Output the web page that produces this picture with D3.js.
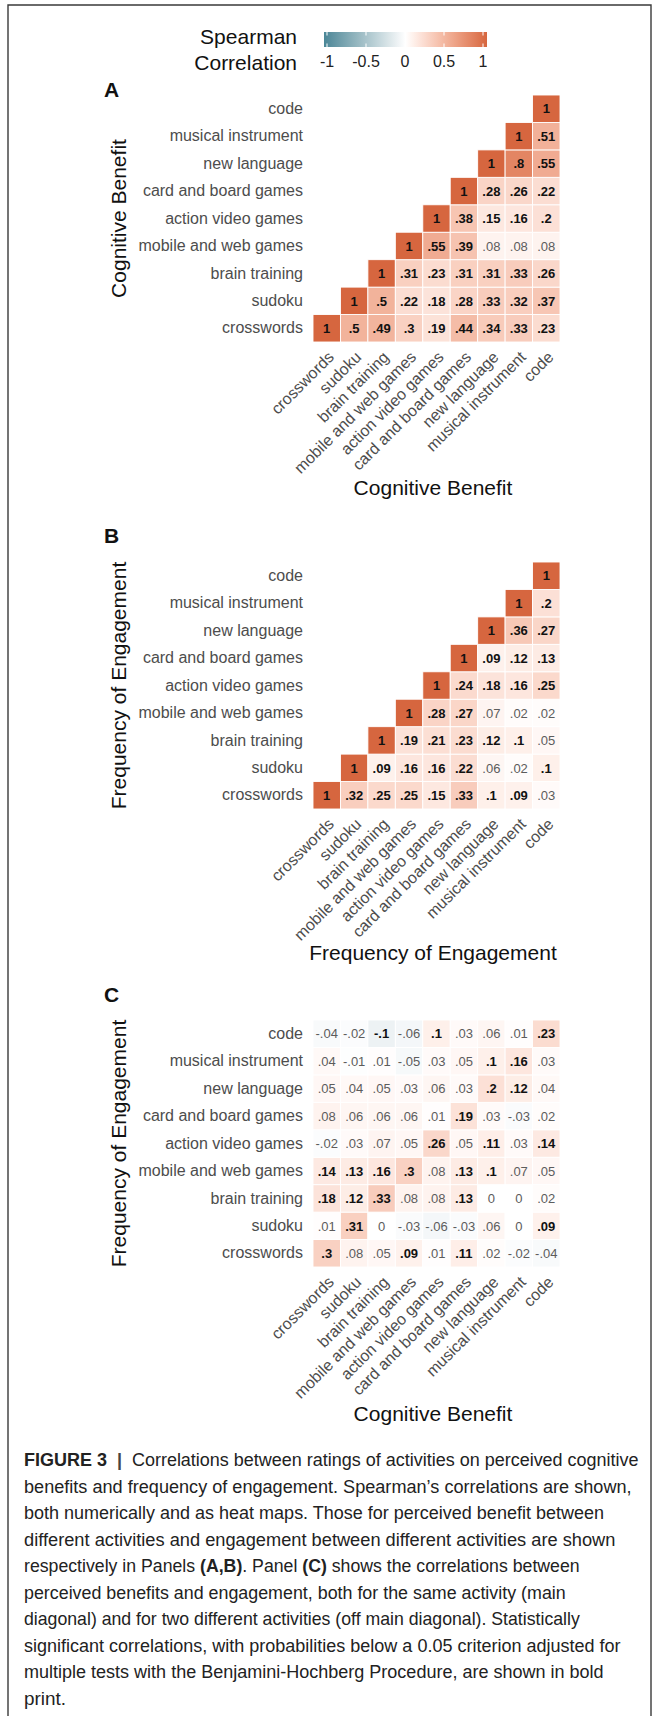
<!DOCTYPE html>
<html>
<head>
<meta charset="utf-8">
<script src="https://cdn.jsdelivr.net/npm/d3@7"></script>
<style>
  body { margin: 0; background: #fff; }
  svg text { font-family: "Liberation Sans", Arial, Helvetica, sans-serif; }
</style>
</head>
<body>
<svg id="fig" width="653" height="1716"></svg>
<script>
// Activities, in axis order (x: left → right, y: bottom → top)
const activities = ["crosswords", "sudoku", "brain training", "mobile and web games",
  "action video games", "card and board games", "new language", "musical instrument", "code"];

// Panel A – cognitive benefit × cognitive benefit (row i holds columns i..8)
const benefitCorr = [
  [1, .5, .49, .3, .19, .44, .34, .33, .23],
  [1, .5, .22, .18, .28, .33, .32, .37],
  [1, .31, .23, .31, .31, .33, .26],
  [1, .55, .39, .08, .08, .08],
  [1, .38, .15, .16, .2],
  [1, .28, .26, .22],
  [1, .8, .55],
  [1, .51],
  [1]
];
const benefitSig = [
  [1, 1, 1, 1, 1, 1, 1, 1, 1],
  [1, 1, 1, 1, 1, 1, 1, 1],
  [1, 1, 1, 1, 1, 1, 1],
  [1, 1, 1, 0, 0, 0],
  [1, 1, 1, 1, 1],
  [1, 1, 1, 1],
  [1, 1, 1],
  [1, 1],
  [1]
];

// Panel B – frequency of engagement × frequency of engagement
const engageCorr = [
  [1, .32, .25, .25, .15, .33, .1, .09, .03],
  [1, .09, .16, .16, .22, .06, .02, .1],
  [1, .19, .21, .23, .12, .1, .05],
  [1, .28, .27, .07, .02, .02],
  [1, .24, .18, .16, .25],
  [1, .09, .12, .13],
  [1, .36, .27],
  [1, .2],
  [1]
];
const engageSig = [
  [1, 1, 1, 1, 1, 1, 1, 1, 0],
  [1, 1, 1, 1, 1, 0, 0, 1],
  [1, 1, 1, 1, 1, 1, 0],
  [1, 1, 1, 0, 0, 0],
  [1, 1, 1, 1, 1],
  [1, 1, 1, 1],
  [1, 1, 1],
  [1, 1],
  [1]
];

// Panel C – engagement (rows, crosswords → code) × benefit (columns)
const crossCorr = [
  [.3, .08, .05, .09, .01, .11, .02, -.02, -.04],
  [.01, .31, 0, -.03, -.06, -.03, .06, 0, .09],
  [.18, .12, .33, .08, .08, .13, 0, 0, .02],
  [.14, .13, .16, .3, .08, .13, .1, .07, .05],
  [-.02, .03, .07, .05, .26, .05, .11, .03, .14],
  [.08, .06, .06, .06, .01, .19, .03, -.03, .02],
  [.05, .04, .05, .03, .06, .03, .2, .12, .04],
  [.04, -.01, .01, -.05, .03, .05, .1, .16, .03],
  [-.04, -.02, -.1, -.06, .1, .03, .06, .01, .23]
];
const crossSig = [
  [1, 0, 0, 1, 0, 1, 0, 0, 0],
  [0, 1, 0, 0, 0, 0, 0, 0, 1],
  [1, 1, 1, 0, 0, 1, 0, 0, 0],
  [1, 1, 1, 1, 0, 1, 1, 0, 0],
  [0, 0, 0, 0, 1, 0, 1, 0, 1],
  [0, 0, 0, 0, 0, 1, 0, 0, 0],
  [0, 0, 0, 0, 0, 0, 1, 1, 0],
  [0, 0, 0, 0, 0, 0, 1, 1, 0],
  [0, 0, 1, 0, 1, 0, 0, 0, 1]
];

const legendTicks = [-1, -0.5, 0, 0.5, 1];
const legendTickLabels = ["-1", "-0.5", "0", "0.5", "1"];

const captionLines = [
  [["FIGURE 3", "b"], ["  |  ", "m"], ["Correlations between ratings of activities on perceived cognitive", ""]],
  [["benefits and frequency of engagement. Spearman\u2019s correlations are shown,", ""]],
  [["both numerically and as heat maps. Those for perceived benefit between", ""]],
  [["different activities and engagement between different activities are shown", ""]],
  [["respectively in Panels ", ""], ["(A,B)", "b"], [". Panel ", ""], ["(C)", "b"], [" shows the correlations between", ""]],
  [["perceived benefits and engagement, both for the same activity (main", ""]],
  [["diagonal) and for two different activities (off main diagonal). Statistically", ""]],
  [["significant correlations, with probabilities below a 0.05 criterion adjusted for", ""]],
  [["multiple tests with the Benjamini-Hochberg Procedure, are shown in bold", ""]],
  [["print.", ""]]
];
const captionWidths = [615, 608, 580, 592, 556, 542, 556, 597, 580, 42];

// ---------------------------------------------------------------
const svg = d3.select("#fig");

// frame
svg.append("path")
  .attr("d", "M8,1716V5H651V1716")
  .attr("fill", "none").attr("stroke", "#3a3a3a").attr("stroke-width", 1.4);

const color = d3.scaleLinear()
  .domain([-1, 0, 1])
  .range(["#4b8797", "#ffffff", "#d6663f"])
  .interpolate(d3.interpolateLab);

function fmt(v) {
  if (v === 1) return "1";
  if (v === 0) return "0";
  const s = d3.format(".2f")(Math.abs(v)).replace(/^0/, "").replace(/0+$/, "");
  return (v < 0 ? "-" : "") + s;
}

const x = d3.scaleBand().domain(activities).range([313, 560]);

function toCells(corr, sig, triangle) {
  const cells = [];
  corr.forEach((row, i) => {
    row.forEach((v, k) => {
      const j = triangle ? i + k : k;
      cells.push({ row: activities[i], col: activities[j], v, bold: !!sig[i][k] });
    });
  });
  return cells;
}

function panel(cfg) {
  const g = svg.append("g");
  const y = d3.scaleBand().domain(activities.slice().reverse())
    .range([cfg.top, cfg.top + 247]);
  const bottom = cfg.top + 247;

  // panel letter
  g.append("text").attr("x", 104).attr("y", cfg.letterY)
    .attr("font-size", 21).attr("font-weight", "bold").attr("fill", "#111")
    .text(cfg.letter);

  // tiles
  g.selectAll("rect.tile").data(cfg.cells).join("rect")
    .attr("class", "tile")
    .attr("x", d => x(d.col)).attr("y", d => y(d.row))
    .attr("width", x.bandwidth()).attr("height", y.bandwidth())
    .attr("fill", d => color(d.v))
    .attr("stroke", "#ffffff").attr("stroke-width", 0.9);

  // values
  g.selectAll("text.val").data(cfg.cells).join("text")
    .attr("class", "val")
    .attr("x", d => x(d.col) + x.bandwidth() / 2)
    .attr("y", d => y(d.row) + y.bandwidth() / 2)
    .attr("dy", "0.36em")
    .attr("text-anchor", "middle")
    .attr("font-size", 13)
    .attr("font-weight", d => d.bold ? "bold" : "normal")
    .attr("fill", d => d.bold ? "#111" : "#5c5c5c")
    .text(d => fmt(d.v));

  // y axis
  const ya = g.append("g").attr("transform", `translate(${x.range()[0]},0)`)
    .call(d3.axisLeft(y).tickSize(0).tickPadding(10));
  ya.select(".domain").remove();
  ya.selectAll("text").attr("font-size", 16).attr("fill", "#4d4d4d")
    .attr("font-family", "Liberation Sans, Arial, sans-serif");

  // x axis with 45° labels
  const xa = g.append("g").attr("transform", `translate(0,${bottom})`)
    .call(d3.axisBottom(x).tickSize(0));
  xa.select(".domain").remove();
  xa.selectAll("text")
    .attr("x", 0).attr("y", 0).attr("dy", "0.72em")
    .attr("transform", "translate(0,8) rotate(-45)")
    .attr("text-anchor", "end")
    .attr("font-size", 16).attr("fill", "#4d4d4d")
    .attr("font-family", "Liberation Sans, Arial, sans-serif");

  // axis titles
  g.append("text")
    .attr("transform", `translate(126,${cfg.top + 123.5}) rotate(-90)`)
    .attr("text-anchor", "middle").attr("font-size", 21).attr("fill", "#111")
    .text(cfg.yTitle);
  g.append("text")
    .attr("x", 433).attr("y", cfg.xTitleY)
    .attr("text-anchor", "middle").attr("font-size", 21).attr("fill", "#111")
    .text(cfg.xTitle);
}

panel({ letter: "A", letterY: 97, top: 95, xTitleY: 495,
  cells: toCells(benefitCorr, benefitSig, true),
  yTitle: "Cognitive Benefit", xTitle: "Cognitive Benefit" });
panel({ letter: "B", letterY: 543, top: 562, xTitleY: 960,
  cells: toCells(engageCorr, engageSig, true),
  yTitle: "Frequency of Engagement", xTitle: "Frequency of Engagement" });
panel({ letter: "C", letterY: 1002, top: 1020, xTitleY: 1421,
  cells: toCells(crossCorr, crossSig, false),
  yTitle: "Frequency of Engagement", xTitle: "Cognitive Benefit" });

// colour bar legend
const lx = d3.scaleLinear().domain([-1, 1]).range([327, 483]);
const defs = svg.append("defs");
const grad = defs.append("linearGradient").attr("id", "corrGrad")
  .attr("x1", "0%").attr("x2", "100%");
d3.range(0, 1.0001, 0.05).forEach(t => {
  grad.append("stop").attr("offset", (t * 100) + "%").attr("stop-color", color(-1 + 2 * t));
});
const leg = svg.append("g");
leg.append("rect").attr("x", 324).attr("y", 32).attr("width", 163).attr("height", 15)
  .attr("fill", "url(#corrGrad)");
leg.selectAll("line.tt").data(legendTicks).join("line").attr("class", "tt")
  .attr("x1", d => lx(d)).attr("x2", d => lx(d)).attr("y1", 32).attr("y2", 35.5)
  .attr("stroke", "#fff").attr("stroke-width", 1);
leg.selectAll("line.tb").data(legendTicks).join("line").attr("class", "tb")
  .attr("x1", d => lx(d)).attr("x2", d => lx(d)).attr("y1", 43.5).attr("y2", 47)
  .attr("stroke", "#fff").attr("stroke-width", 1);
leg.selectAll("text.tl").data(legendTicks).join("text").attr("class", "tl")
  .attr("x", d => lx(d)).attr("y", 67).attr("text-anchor", "middle")
  .attr("font-size", 16).attr("fill", "#222").text((d, i) => legendTickLabels[i]);
leg.append("text").attr("x", 297).attr("y", 44).attr("text-anchor", "end")
  .attr("font-size", 21).attr("fill", "#111").text("Spearman");
leg.append("text").attr("x", 297).attr("y", 70).attr("text-anchor", "end")
  .attr("font-size", 21).attr("fill", "#111").text("Correlation");

// caption
const cap = svg.append("g");
captionLines.forEach((parts, i) => {
  const t = cap.append("text")
    .attr("font-size", 18.5).attr("fill", "#222");
  parts.forEach(([s, w]) => {
    t.append("tspan").attr("font-weight", w ? "bold" : "normal")
      .attr("fill", w === "m" ? "#444" : null)
      .style("white-space", "pre").text(s);
  });
  const w = t.node().getComputedTextLength();
  const sx = captionWidths[i] / w;
  t.attr("transform", `translate(24,${1466 + i * 26.5}) scale(${sx},1)`);
});
</script>
</body>
</html>
